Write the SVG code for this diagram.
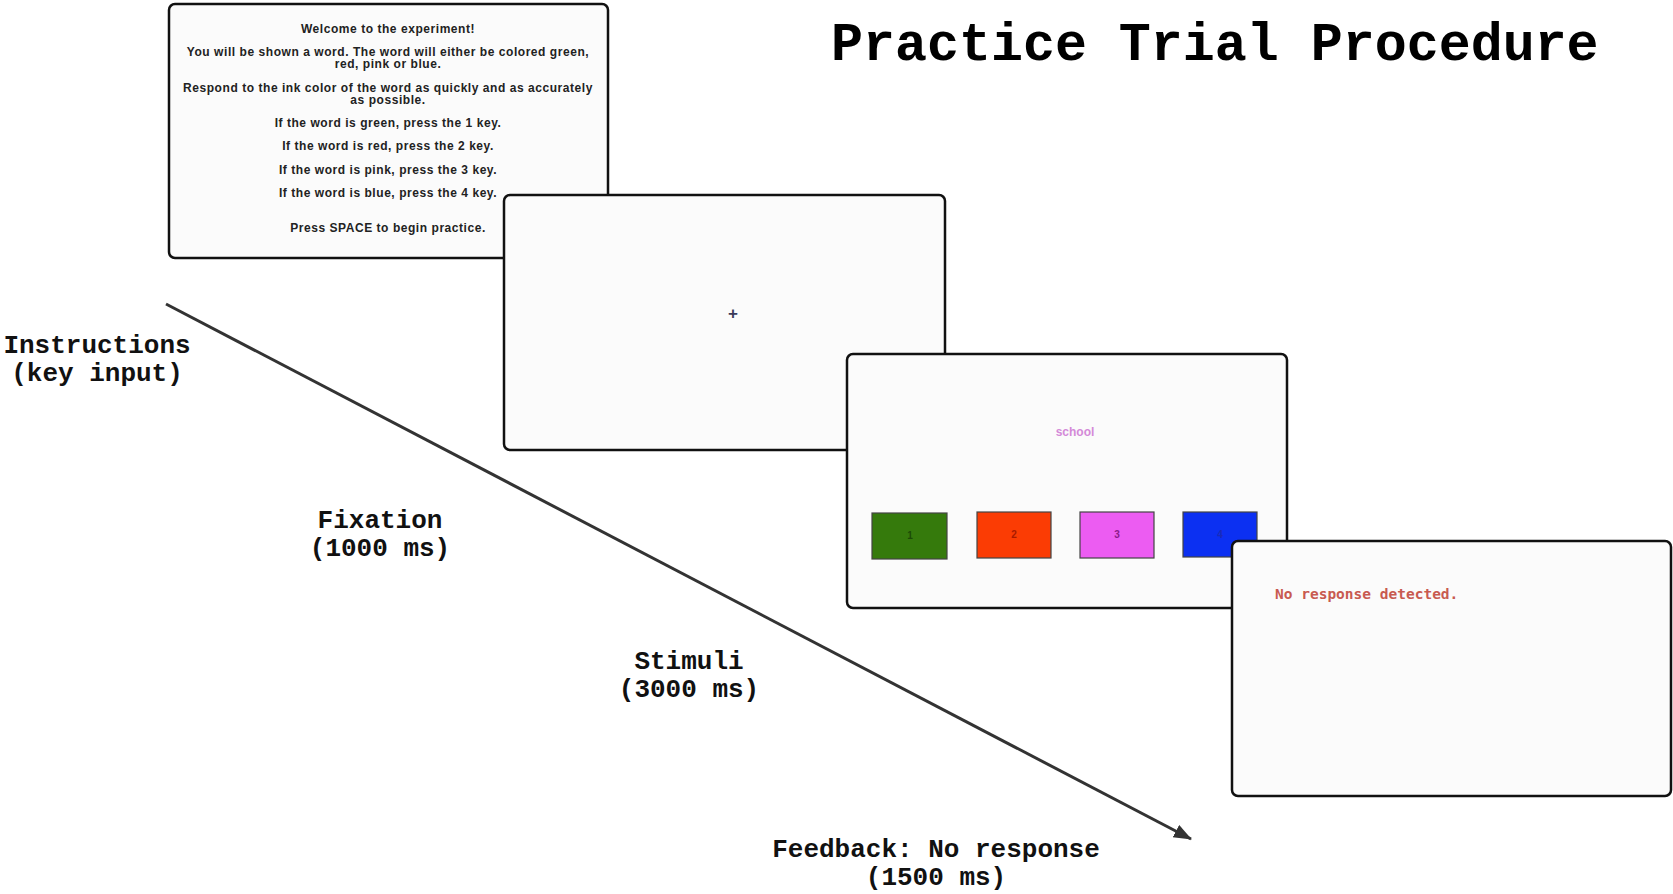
<svg xmlns="http://www.w3.org/2000/svg" width="1673" height="894" viewBox="0 0 1673 894">
<style>
.screen{fill:#fbfbfb;stroke:#111;stroke-width:2.5}
.instr{font-family:"Liberation Sans",Arial,sans-serif;font-weight:bold;font-size:12px;letter-spacing:0.55px;fill:#222;text-anchor:middle}
.lbl{font-family:"Liberation Mono","Courier New",monospace;font-weight:bold;font-size:26px;fill:#111;text-anchor:middle}
.title{font-family:"Liberation Mono","Courier New",monospace;font-weight:bold;font-size:53.3px;fill:#000}
.key{stroke:#444;stroke-width:1.2}
.keynum{font-family:"Liberation Sans",Arial,sans-serif;font-weight:bold;font-size:10px;text-anchor:middle}
</style>
<defs>
<marker id="arrow" markerUnits="userSpaceOnUse" markerWidth="20" markerHeight="16" refX="17" refY="7" orient="auto">
<path d="M0,0 L18,7 L0,14 Z" fill="#333"/>
</marker>
</defs>
<rect width="1673" height="894" fill="#fff"/>
<text class="title" x="831" y="60">Practice Trial Procedure</text>
<g id="connectors">
<line x1="166" y1="304" x2="1191" y2="839" stroke="#333" stroke-width="3" marker-end="url(#arrow)"/>
</g>
<g id="instructions">
<rect class="screen" x="169" y="4" width="439" height="254" rx="6"/>
<text class="instr" x="388" y="33">Welcome to the experiment!</text>
<text class="instr" x="388" y="56">You will be shown a word. The word will either be colored green,</text>
<text class="instr" x="388" y="68">red, pink or blue.</text>
<text class="instr" x="388" y="92">Respond to the ink color of the word as quickly and as accurately</text>
<text class="instr" x="388" y="104">as possible.</text>
<text class="instr" x="388" y="127">If the word is green, press the 1 key.</text>
<text class="instr" x="388" y="150">If the word is red, press the 2 key.</text>
<text class="instr" x="388" y="174">If the word is pink, press the 3 key.</text>
<text class="instr" x="388" y="197">If the word is blue, press the 4 key.</text>
<text class="instr" x="388" y="232">Press SPACE to begin practice.</text>
</g>
<g id="fixation">
<rect class="screen" x="504" y="195" width="441" height="255" rx="6"/>
<text x="733" y="319" font-family="Liberation Sans,Arial,sans-serif" font-weight="bold" font-size="17" fill="#3a3a5a" text-anchor="middle">+</text>
</g>
<g id="stimuli">
<rect class="screen" x="847" y="354" width="440" height="254" rx="6"/>
<text x="1075" y="436" font-family="Liberation Sans,Arial,sans-serif" font-weight="bold" font-size="12" fill="#d48ad8" text-anchor="middle">school</text>
<rect class="key" x="872" y="513" width="75" height="46" fill="#357a0c"/>
<text class="keynum" x="910" y="539" fill="#1c4a06">1</text>
<rect class="key" x="977" y="512" width="74" height="46" fill="#fb3c04"/>
<text class="keynum" x="1014" y="538" fill="#a81a00">2</text>
<rect class="key" x="1080" y="512" width="74" height="46" fill="#ec5cf2"/>
<text class="keynum" x="1117" y="538" fill="#8a1a8a">3</text>
<rect class="key" x="1183" y="512" width="74" height="45" fill="#0c30f2"/>
<text class="keynum" x="1220" y="538" fill="#1a2ab8">4</text>
</g>
<g id="feedback">
<rect class="screen" x="1232" y="541" width="439" height="255" rx="6"/>
<text x="1275" y="599" font-family="DejaVu Sans Mono,monospace" font-weight="bold" font-size="14.5" fill="#c85a50">No response detected.</text>
</g>
<g id="labels">
<text class="lbl" x="97" y="353">Instructions</text>
<text class="lbl" x="97" y="381">(key input)</text>
<text class="lbl" x="380" y="528">Fixation</text>
<text class="lbl" x="380" y="556">(1000 ms)</text>
<text class="lbl" x="689" y="669">Stimuli</text>
<text class="lbl" x="689" y="697">(3000 ms)</text>
<text class="lbl" x="936" y="857">Feedback: No response</text>
<text class="lbl" x="936" y="885">(1500 ms)</text>
</g>
</svg>
